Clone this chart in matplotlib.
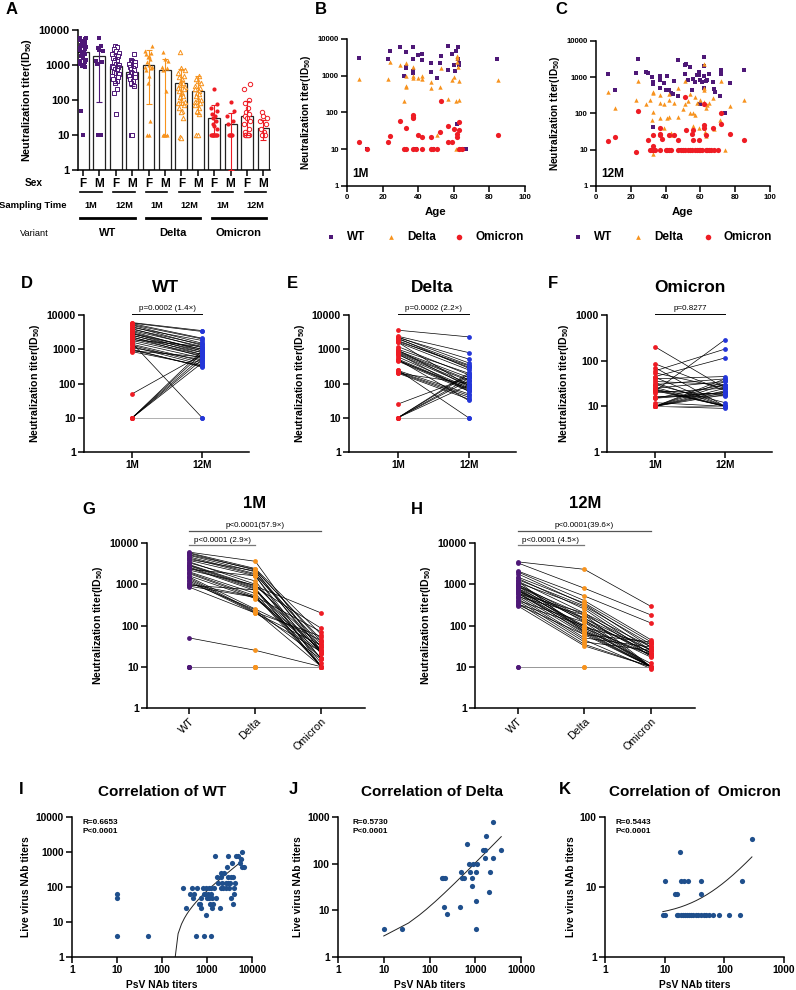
import numpy as np
import matplotlib
matplotlib.use('Agg')
import matplotlib.pyplot as plt
from matplotlib import transforms
from matplotlib.ticker import FixedLocator, NullLocator, FixedFormatter

plt.rcParams['font.family'] = ['Liberation Sans', 'DejaVu Sans']
plt.rcParams['font.weight'] = 'bold'
plt.rcParams['axes.labelweight'] = 'bold'
plt.rcParams['mathtext.fontset'] = 'custom'
plt.rcParams['mathtext.bf'] = 'Liberation Sans:bold'
plt.rcParams['mathtext.rm'] = 'Liberation Sans:bold'
plt.rcParams['mathtext.default'] = 'bf'

# ---------------- data ----------------
# Panel A: groups (F/M x 1M/12M x variant)
a_wt1_f = [6000, 5800, 5500, 5200, 4800, 4500, 4200, 3800, 3500, 3200, 3000, 2800, 2600, 2400, 2200,
           2000, 1800, 1600, 1400, 1300, 1200, 1100, 1000, 950, 900, 50, 10]
a_wt1_m = [5800, 3500, 3000, 2700, 2500, 1300, 1200, 1100, 10, 10, 10, 10, 10]
a_wt12_f = [3600, 3200, 2800, 2500, 2200, 2000, 1800, 1600, 1500, 1400, 1300, 1200, 1100, 1000, 950, 900,
            850, 800, 750, 700, 650, 600, 550, 500, 450, 400, 350, 300, 200, 160, 40]
a_wt12_m = [2000, 1400, 1300, 1200, 1100, 1000, 900, 800, 750, 700, 650, 600, 550, 500, 450, 400, 350,
            300, 250, 10, 10]
a_de1_f = [3600, 2500, 2200, 2000, 1800, 1700, 1500, 1200, 1000, 900, 850, 800, 700, 500, 300, 25, 10, 10]
a_de1_m = [2400, 1500, 1300, 900, 800, 700, 180, 10, 10, 10, 10]
a_de12_f = [2300, 800, 700, 600, 500, 450, 400, 350, 300, 280, 260, 240, 220, 200, 180, 160, 150, 130,
            120, 100, 90, 80, 70, 60, 50, 45, 30, 9, 8]
a_de12_m = [500, 400, 350, 300, 250, 220, 200, 180, 160, 150, 130, 110, 100, 90, 80, 70, 60, 50, 40, 10, 10]
a_om1_f = [200, 75, 60, 50, 40, 35, 30, 25, 20, 18, 15, 10, 10, 10, 10, 10, 10, 10, 10]
a_om1_m = [85, 50, 35, 25, 20, 10, 10, 10, 10, 10]
a_om12_f = [290, 200, 100, 80, 60, 45, 40, 35, 30, 25, 20, 15, 12, 10, 10, 10, 10, 10]
a_om12_m = [45, 35, 30, 25, 20, 15, 12, 10, 10, 10, 10]
a_bar = [2300, 1800, 950, 650, 1000, 720, 300, 180, 30, 21, 35, 16]
a_err_lo = [900, 90, 300, 250, 75, 10, 70, 40, 10, 1, 10, 7]
a_err_hi = [5000, 3600, 2000, 1400, 2600, 1500, 750, 470, 72, 42, 95, 27]
a_sex = ['F', 'M'] * 6
a_time = ['1M', '12M'] * 3
a_variant = ['WT', 'Delta', 'Omicron']

# Panel B: 1M titers vs age
b_wt_age = [7, 11, 23, 24, 30, 32, 33, 33, 33, 37, 37, 37, 37, 39, 40, 42, 42, 47, 47, 48.5, 50.5, 52, 53,
            57, 57, 59, 60, 60.5, 61.5, 62.5, 62.5, 63, 63, 62, 64.5, 66, 67, 84.5]
b_wt_val = [2970, 10, 2800, 4800, 6000, 1000, 4300, 1750, 1650, 5900, 2800, 1350, 1200, 10, 3700, 4000, 2600,
            2250, 1300, 10, 870, 2200, 3400, 6300, 1400, 4000, 1950, 1350, 4800, 6000, 2850, 2250, 1950, 50,
            10, 10, 10, 2900]
b_de_age = [7, 23, 24, 30, 32, 33, 33, 33, 33, 37, 37, 37, 40, 42, 42, 47, 47, 50.5, 52, 53, 57, 59, 60, 61,
            62, 62, 62, 62.5, 63, 63, 61, 63, 85]
b_de_val = [810, 810, 2400, 1950, 210, 2200, 520, 480, 1000, 1000, 850, 1750, 850, 1000, 820, 690, 450, 24,
            480, 1650, 240, 760, 900, 200, 3500, 3000, 2400, 1750, 730, 215, 10, 10, 760]
b_om_age = [7, 11, 23, 24, 30, 32, 33, 33, 37, 37, 37, 37, 40, 42, 42, 47, 47, 48.5, 50.5, 52, 53, 57, 57,
            59, 60, 62, 62, 63, 63, 63, 64.5, 85, 39]
b_om_val = [16, 10, 16, 23, 59, 10, 10, 37, 85, 77, 69, 10, 24, 22, 10, 22, 10, 10, 10, 30, 200, 43, 15.5, 16,
            35, 22, 26, 54, 33, 10, 10, 24, 10]

# Panel C: 12M titers vs age
c_wt_age = [7, 11, 23, 24, 29, 30, 32, 33, 33, 33, 37, 37, 37, 39, 40, 41, 42, 43, 44, 45, 47, 47, 49, 51,
            52, 51, 53, 54, 55, 56, 57, 58, 59, 59, 60, 61, 60, 60, 62, 62, 62, 62, 63, 64, 65, 67, 68, 68.5,
            71, 72, 72, 74, 77, 85]
c_wt_val = [1260, 440, 1330, 3240, 1400, 1330, 1000, 660, 750, 43, 1050, 860, 490, 700, 440, 1050, 440, 370,
            340, 790, 3040, 300, 10, 2180, 2370, 1200, 860, 1900, 440, 870, 750, 1150, 1400, 1150, 830, 750,
            180, 10, 2000, 1050, 3600, 520, 770, 860, 1200, 750, 460, 400, 300, 1550, 1200, 105, 680, 1550]
c_de_age = [7, 11, 23, 24, 29, 31, 32, 33, 33, 33, 33, 37, 37, 37, 39, 39, 42, 42, 41, 42, 43, 43, 45, 47,
            47, 50, 51, 51, 53, 54, 54, 56, 57, 57, 58, 59, 60, 62, 62, 62, 62, 62.5, 63, 63, 64, 65, 67, 68,
            71, 72, 74, 77, 85, 56]
c_de_val = [380, 140, 230, 800, 180, 230, 68, 110, 360, 400, 7.6, 190, 73, 320, 180, 41, 350, 230, 73, 78,
            29, 25, 190, 520, 80, 130, 800, 180, 220, 340, 100, 100, 90, 290, 200, 41, 230, 2370, 440, 520,
            210, 31, 24, 140, 170, 190, 260, 38, 68, 800, 10, 165, 230, 45]
c_om_age = [7, 11, 23, 24, 30, 31, 32, 33, 34, 33, 33, 37, 37, 37, 37, 38, 40, 41, 42, 43, 42, 45, 47, 47,
            49, 50, 51, 51, 52, 53, 54, 55, 55, 56, 56, 57, 58, 59, 59, 60, 61, 62, 62, 62, 63, 63, 64, 65,
            66, 67, 68, 70, 72, 72, 77, 85]
c_om_val = [17, 23, 8.8, 118, 19, 10, 10, 10, 10, 25, 13, 41, 28, 25, 10, 20, 10, 10, 10, 10, 26, 25, 19, 10,
            10, 10, 290, 10, 35, 10, 10, 27, 10, 35, 19, 10, 10, 19, 10, 10, 10, 48, 39, 180, 25, 10, 10, 10,
            10, 41, 10, 10, 105, 51, 27, 18]

# Panels D-H: paired cohort
p_wt1 = [6000, 5800, 5600, 5200, 5000, 4600, 4300, 4000, 3800, 3500, 3300, 3000, 2900, 2800, 2600, 2500,
         2300, 2200, 2000, 1900, 1800, 1600, 1500, 1400, 1300, 1200, 1100, 1000, 950, 900, 850, 50, 10, 10,
         10, 10, 10, 10]
p_de1 = [3600, 2400, 2200, 2300, 2000, 1800, 1700, 2100, 1600, 1000, 1200, 900, 850, 800, 760, 700, 1600,
         950, 600, 520, 480, 450, 250, 220, 210, 200, 240, 500, 730, 480, 200, 25, 10, 10, 10, 10, 10, 10]
p_om1 = [22, 60, 45, 40, 30, 25, 35, 20, 15, 22, 12, 200, 85, 10, 16, 24, 10, 30, 10, 10, 26, 22, 43, 10,
         54, 33, 15, 70, 10, 16, 23, 10, 10, 10, 10, 10, 10, 10]
p_wt12 = [3500, 3300, 2100, 2000, 1500, 1300, 1800, 1100, 1400, 1200, 900, 1000, 800, 1000, 700, 900, 600,
          800, 700, 1200, 650, 550, 10, 450, 400, 350, 500, 300, 320, 600, 330, 700, 10, 400, 500, 600, 750, 900]
p_de12 = [2300, 800, 520, 400, 350, 300, 330, 280, 250, 200, 180, 150, 130, 120, 100, 90, 85, 80, 75, 70,
          65, 60, 10, 45, 40, 35, 50, 32, 60, 70, 100, 150, 10, 120, 180, 200, 90, 140]
p_om12 = [290, 180, 115, 45, 40, 35, 30, 25, 20, 18, 10, 25, 22, 10, 17, 10, 20, 12, 10, 10, 10, 10, 10, 9,
          25, 10, 30, 10, 40, 20, 10, 18, 10, 22, 25, 30, 35, 10]

# Panels I-K: correlation
i_x = [10, 10, 10, 48, 300, 340, 420, 470, 500, 520, 580, 600, 650, 700, 720, 750, 800, 850, 870, 900,
       950, 960, 1000, 1050, 1100, 1100, 1150, 1200, 1200, 1250, 1300, 1300, 1350, 1400, 1500, 1600, 1700,
       1800, 1900, 2000, 2000, 2100, 2200, 2300, 2400, 2600, 2700, 2800, 2900, 3000, 3000, 3100, 3300, 3400,
       3500, 3600, 3700, 3800, 3900, 4000, 4200, 4500, 5000, 5500, 6000, 6000, 6500, 5800]
i_y = [65, 48, 4, 4, 95, 25, 65, 95, 48, 65, 4, 95, 32, 32, 25, 48, 95, 65, 4, 65, 95, 16, 48, 65, 95, 48,
       32, 4, 95, 65, 25, 48, 32, 95, 780, 48, 190, 130, 25, 250, 95, 190, 130, 95, 250, 130, 95, 380, 780,
       190, 130, 95, 130, 190, 48, 500, 32, 190, 65, 95, 130, 780, 780, 500, 1000, 380, 380, 650]
j_x = [10, 25, 187, 200, 220, 210, 245, 460, 490, 520, 560, 670, 740, 770, 840, 840, 910, 1040, 1070, 1040,
       1050, 1450, 1670, 1720, 1600, 1950, 2150, 2450, 2500, 3700]
j_y = [4, 4, 49, 49, 49, 12, 8.3, 12, 66, 49, 49, 265, 97, 66, 33, 49, 97, 66, 97, 16, 4, 200, 200, 400,
       132, 25, 66, 132, 800, 200]
k_x = [9.3, 10.1, 10, 15, 16, 16, 18, 19, 21, 25, 17, 19, 20, 22, 24, 26, 28, 30, 33, 36, 40, 45, 50, 55,
       65, 80, 120, 180, 40, 41, 195, 290]
k_y = [4, 4, 12, 8, 8, 4, 32, 12, 12, 12, 4, 4, 4, 4, 4, 4, 4, 4, 4, 4, 4, 4, 4, 4, 4, 4, 4, 4, 8, 12, 12, 48]
# linear-regression line (slope, intercept)
i_fit = [0.0945, -16.9]
j_fit = [0.102, 1.8]
k_fit = [0.08, 3.7]
corr_text = ['R=0.6653\nP<0.0001', 'R=0.5730\nP<0.0001', 'R=0.5443\nP<0.0001']

# ---------------- style ----------------
PUR = '#4e1877'
ORA = '#f7931e'
RED = '#ee1c24'
BLUE = '#2436d8'
NAVY = '#1f4f8c'
GREY = '#8f8f8f'

W, H = 796, 990
fig = plt.figure(figsize=(W / 100, H / 100), dpi=100)

ov = fig.add_axes([0, 0, 1, 1], zorder=10)
ov.set_xlim(0, W)
ov.set_ylim(H, 0)
ov.axis('off')


def add_ax(l, t, r, b):
    return fig.add_axes([l / W, 1 - b / H, (r - l) / W, (b - t) / H])


def txt(x, y, s, size, weight='bold', **kw):
    kw.setdefault('ha', 'center')
    kw.setdefault('va', 'center')
    ov.text(x, y, s, fontsize=size, fontweight=weight, **kw)


def logstyle(ax, yticks, ysize=7.5, lw=1.1):
    ax.set_yscale('log')
    ax.set_ylim(yticks[0], yticks[-1])
    ax.yaxis.set_major_locator(FixedLocator(yticks))
    ax.yaxis.set_minor_locator(NullLocator())
    ax.yaxis.set_major_formatter(FixedFormatter([f'{t:g}' for t in yticks]))
    for s in ['top', 'right']:
        ax.spines[s].set_visible(False)
    for s in ['left', 'bottom']:
        ax.spines[s].set_linewidth(lw)
    ax.tick_params(axis='y', width=lw, length=4, labelsize=ysize, pad=2)
    ax.tick_params(axis='x', width=lw, length=4, pad=2)
    ax.patch.set_alpha(0)


def spread(vals, w=0.2):
    pattern = np.array([0, -0.5, 0.5, -0.25, 0.25, -0.75, 0.75, -1.0, 1.0])
    order = np.argsort(vals)
    off = np.zeros(len(vals))
    off[order] = w * pattern[np.arange(len(vals)) % len(pattern)]
    return off


YL = 'Neutralization titer(ID$_{50}$)'
T5 = [1, 10, 100, 1000, 10000]

# ---------------- Panel A ----------------
axA = add_ax(78, 30, 270, 170)
logstyle(axA, T5, ysize=8)
groups = [a_wt1_f, a_wt1_m, a_wt12_f, a_wt12_m, a_de1_f, a_de1_m, a_de12_f, a_de12_m,
          a_om1_f, a_om1_m, a_om12_f, a_om12_m]
markers = ['s'] * 4 + ['^'] * 4 + ['o'] * 4
cols = [PUR] * 4 + [ORA] * 4 + [RED] * 4
pos = np.arange(len(a_bar))
axA.bar(pos, np.array(a_bar) - 1, bottom=1, width=0.72, color='white', edgecolor='#222', lw=0.9, zorder=1)
for i, vals in enumerate(groups):
    v = np.asarray(vals, float)
    filled = (i % 4) < 2
    if filled:
        axA.scatter(i + spread(v), v, marker=markers[i], s=9, color=cols[i], lw=0, zorder=3)
    else:
        axA.scatter(i + spread(v), v, marker=markers[i], s=10, facecolors='white', edgecolors=cols[i],
                    linewidths=0.7, zorder=3)
    axA.errorbar(i, a_bar[i], yerr=[[a_bar[i] - a_err_lo[i]], [a_err_hi[i] - a_bar[i]]], fmt='none',
                 ecolor=cols[i], elinewidth=0.8, capsize=2.5, capthick=0.8, zorder=4)
axA.set_xlim(-0.3, 11.4)
axA.set_xticks(pos, a_sex, fontsize=8.5)
axA.set_ylabel(YL, fontsize=7.8, labelpad=3)
bt = transforms.blended_transform_factory(axA.transData, ov.transData)
for k in range(6):
    ov.plot([2 * k - 0.15, 2 * k + 1.15], [192, 192], color='black', lw=1.2, transform=bt, clip_on=False)
    ov.text(2 * k + 0.5, 205, a_time[k], transform=bt, ha='center', va='center', fontsize=6.6,
            fontweight='bold')
for v in range(3):
    ov.plot([4 * v - 0.15, 4 * v + 3.15], [218, 218], color='black', lw=2.0, transform=bt, clip_on=False)
    ov.text(4 * v + 1.5, 233, a_variant[v], transform=bt, ha='center', va='center', fontsize=8,
            fontweight='bold')
txt(34, 183, 'Sex', 7.3)
txt(33, 205, 'Sampling Time', 6.8)
txt(34, 233, 'Variant', 6.6, weight='normal')


# ---------------- Panels B, C ----------------
def age_panel(rect, wa, wv, da, dv, oa, ov_, tag, leg_x):
    ax = add_ax(*rect)
    logstyle(ax, T5, ysize=5.6)
    ax.scatter(wa, wv, marker='s', s=7, color=PUR, lw=0, zorder=3)
    ax.scatter(da, dv, marker='^', s=10, color=ORA, lw=0, zorder=3)
    ax.scatter(oa, ov_, marker='o', s=14, color=RED, lw=0, zorder=3)
    ax.set_xlim(0, 100)
    ax.set_xticks([0, 20, 40, 60, 80, 100])
    ax.tick_params(axis='x', labelsize=5.6)
    ax.set_xlabel('Age', fontsize=8.2, labelpad=4)
    ax.set_ylabel(YL, fontsize=7.3, labelpad=3)
    ax.text(0.03, 0.08, tag, transform=ax.transAxes, fontsize=8.5, fontweight='bold', ha='left', va='center')
    specs = [('s', 3.0, PUR, 'WT'), ('^', 3.4, ORA, 'Delta'), ('o', 4.0, RED, 'Omicron')]
    for (mk, ms, c, lab), x in zip(specs, leg_x):
        ov.plot([x], [237], marker=mk, ms=ms, color=c, ls='none', mew=0)
        txt(x + 16, 237, lab, 8.5, ha='left')
    return ax


age_panel((347, 39, 525, 186), b_wt_age, b_wt_val, b_de_age, b_de_val, b_om_age, b_om_val, '1M',
          [331, 391, 459])
age_panel((596, 41, 770, 186), c_wt_age, c_wt_val, c_de_age, c_de_val, c_om_age, c_om_val, '12M',
          [578, 638, 708])


# ---------------- Panels D, E, F ----------------
def seg_color(a, b):
    return GREY if (a == 10 and b == 10) else 'black'


def paired_panel(rect, v1, v2, yticks, ptxt):
    ax = add_ax(*rect)
    logstyle(ax, yticks, ysize=7.6)
    for a, b in zip(v1, v2):
        ax.plot([0, 1], [a, b], color=seg_color(a, b), lw=0.5, zorder=1)
    ax.scatter(np.zeros(len(v1)), v1, s=12, color=RED, lw=0, zorder=3)
    ax.scatter(np.ones(len(v2)), v2, s=12, color=BLUE, lw=0, zorder=3)
    ax.set_xlim(-0.69, 1.67)
    ax.set_xticks([0, 1], ['1M', '12M'], fontsize=7.2)
    ax.set_ylabel(YL, fontsize=7.6, labelpad=3)
    tr = transforms.blended_transform_factory(ax.transData, ax.transAxes)
    ax.plot([0, 1], [1.008, 1.008], color='black', lw=0.7, transform=tr, clip_on=False)
    ax.text(0.5, 1.045, ptxt, transform=tr, ha='center', va='center', fontsize=5.8, fontweight='normal')
    return ax


paired_panel((84, 315, 249, 452), p_wt1, p_wt12, T5, 'p=0.0002 (1.4×)')
paired_panel((349, 315, 516, 452), p_de1, p_de12, T5, 'p=0.0002 (2.2×)')
paired_panel((607, 315, 772, 452), p_om1, p_om12, [1, 10, 100, 1000], 'p=0.8277')
txt(27, 283, 'D', 12)
txt(292, 283, 'E', 12)
txt(553, 283, 'F', 12)
txt(166, 288, 'WT', 12.5)
txt(432, 288, 'Delta', 12.5)
txt(690, 288, 'Omicron', 12.5)


# ---------------- Panels G, H ----------------
def triple_panel(rect, a, b, c, p1, p2):
    ax = add_ax(*rect)
    logstyle(ax, T5, ysize=7.6)
    for va, vb, vc in zip(a, b, c):
        ax.plot([0, 1], [va, vb], color=seg_color(va, vb), lw=0.5, zorder=1)
        ax.plot([1, 2], [vb, vc], color=seg_color(vb, vc), lw=0.5, zorder=1)
    ax.scatter(np.zeros(len(a)), a, s=12, color=PUR, lw=0, zorder=3)
    ax.scatter(np.ones(len(b)), b, s=12, color=ORA, lw=0, zorder=3)
    ax.scatter(np.full(len(c), 2), c, s=12, color=RED, lw=0, zorder=3)
    ax.set_xlim(-0.64, 2.66)
    ax.set_xticks([0, 1, 2], ['WT', 'Delta', 'Omicron'], rotation=45, ha='right', rotation_mode='anchor',
                  fontsize=7.8, fontweight='normal')
    ax.set_ylabel(YL, fontsize=7.6, labelpad=3)
    tr = transforms.blended_transform_factory(ax.transData, ax.transAxes)
    ax.plot([0, 1], [0.988, 0.988], color='#777', lw=0.9, transform=tr, clip_on=False)
    ax.text(0.5, 1.018, p1, transform=tr, ha='center', va='center', fontsize=5.8, fontweight='normal')
    ax.plot([0, 2], [1.073, 1.073], color='#555', lw=0.9, transform=tr, clip_on=False)
    ax.text(1.0, 1.109, p2, transform=tr, ha='center', va='center', fontsize=5.8, fontweight='normal')
    return ax


triple_panel((147, 543, 365, 708), p_wt1, p_de1, p_om1, 'p<0.0001 (2.9×)', 'p<0.0001(57.9×)')
triple_panel((475, 543, 695, 708), p_wt12, p_de12, p_om12, 'p<0.0001 (4.5×)', 'p<0.0001(39.6×)')
txt(89, 510, 'G', 12)
txt(417, 510, 'H', 12)
txt(255, 504, '1M', 12)
txt(585, 504, '12M', 12)


# ---------------- Panels I, J, K ----------------
def corr_panel(rect, x, y, fit, xticks, yticks, rtxt, rx, title, tx):
    ax = add_ax(*rect)
    logstyle(ax, yticks, ysize=7.4)
    ax.set_xscale('log')
    ax.set_xlim(xticks[0], xticks[-1])
    ax.xaxis.set_major_locator(FixedLocator(xticks))
    ax.xaxis.set_minor_locator(NullLocator())
    ax.xaxis.set_major_formatter(FixedFormatter([f'{t:g}' for t in xticks]))
    ax.tick_params(axis='x', labelsize=7.4)
    x = np.asarray(x, float)
    y = np.asarray(y, float)
    ax.scatter(x, y, s=14, color=NAVY, lw=0, zorder=3)
    xs = np.linspace(x.min(), x.max(), 150)
    ys = fit[0] * xs + fit[1]
    m = ys > 0
    ax.plot(xs[m], ys[m], color='#222', lw=0.7, zorder=2)
    ax.set_xlabel('PsV NAb titers', fontsize=7.4, labelpad=3)
    ax.set_ylabel('Live virus NAb titers', fontsize=7.4, labelpad=3)
    ax.text(rx, 0.985, rtxt, transform=ax.transAxes, ha='left', va='top', fontsize=5.9, linespacing=1.35)
    txt(tx, 792, title, 11)
    return ax


corr_panel((72, 817, 252, 957), i_x, i_y, i_fit, T5, T5, corr_text[0], 0.06, 'Correlation of WT', 162)
corr_panel((338, 817, 521, 957), j_x, j_y, j_fit, T5, [1, 10, 100, 1000], corr_text[1], 0.077,
           'Correlation of Delta', 432)
corr_panel((605, 817, 784, 957), k_x, k_y, k_fit, [1, 10, 100, 1000], [1, 10, 100], corr_text[2], 0.06,
           'Correlation of  Omicron', 695)
txt(21, 789, 'I', 12)
txt(293, 789, 'J', 12)
txt(565, 789, 'K', 12)

txt(12, 10, 'A', 12)
txt(321, 10, 'B', 12)
txt(561, 10, 'C', 12)

fig.savefig('out.png', dpi=100)
